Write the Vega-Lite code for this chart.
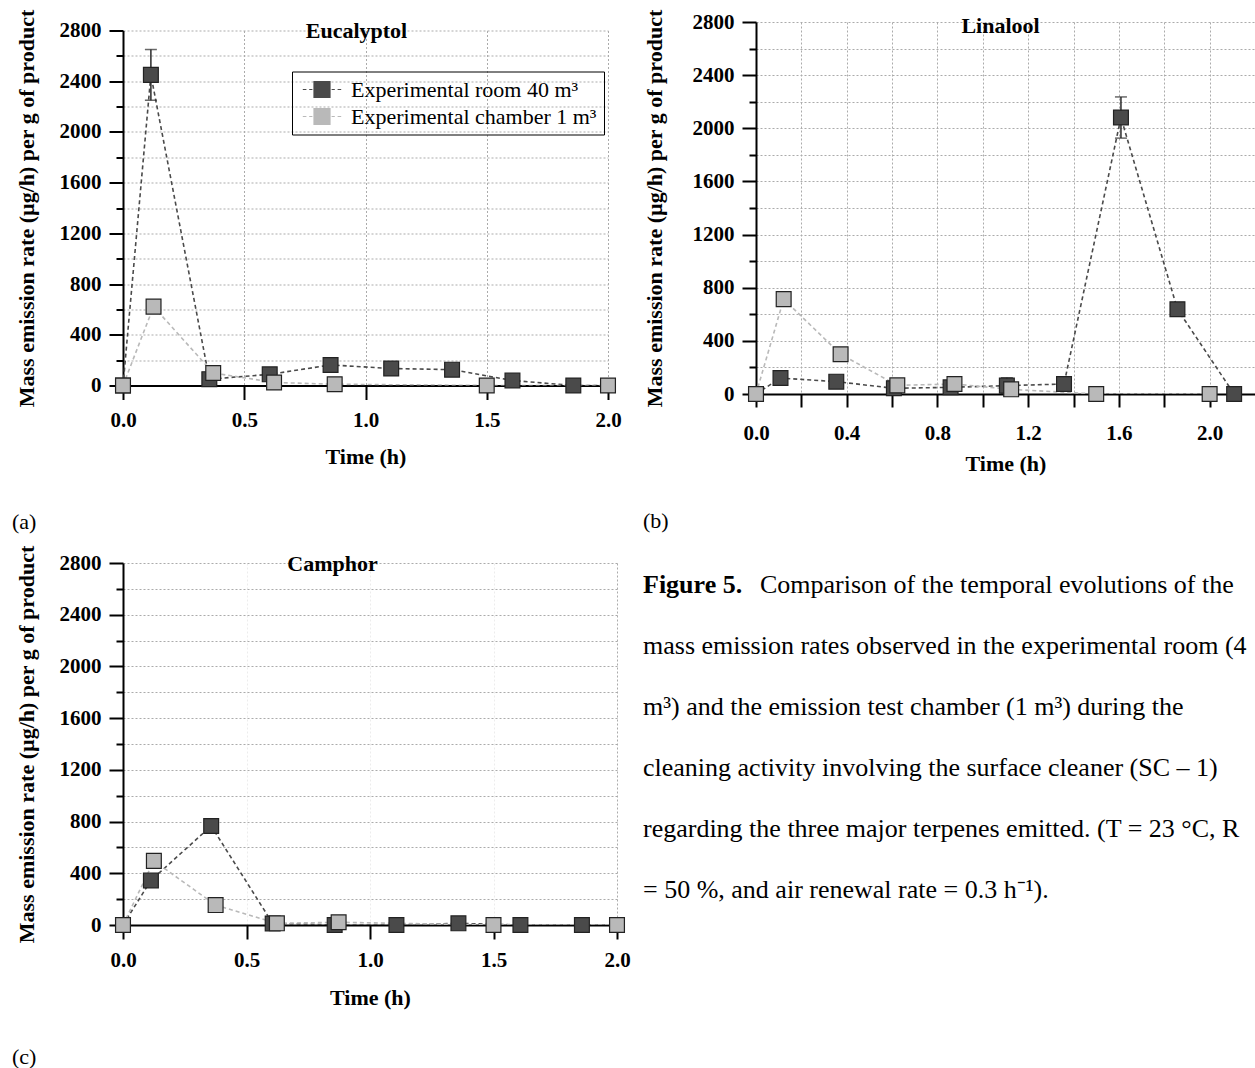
{
  "$schema": "https://vega.github.io/schema/vega-lite/v6.json",
  "padding": {"left": 12, "top": 9, "right": 0, "bottom": 0},
  "background": "white",
  "config": {
    "view": {"stroke": null},
    "font": "Liberation Serif",
    "axis": {
      "labelFont": "Liberation Serif", "labelFontWeight": "bold", "labelFontSize": 21, "labelColor": "black",
      "titleFont": "Liberation Serif", "titleFontWeight": "bold", "titleFontSize": 22, "titleColor": "black",
      "domainColor": "black", "domainWidth": 2, "tickColor": "black", "tickWidth": 2,
      "gridColor": "#ababab", "gridDash": [2, 2], "gridWidth": 1, "labelFlush": false, "labelOverlap": false
    },
    "title": {"font": "Liberation Serif", "fontSize": 22, "fontWeight": "normal", "color": "black"}
  },
  "datasets": {
    "d": [
      {"chem": "Eucalyptol", "series": "Experimental room 40 m³", "t": 0, "v": 0},
      {"chem": "Eucalyptol", "series": "Experimental room 40 m³", "t": 0.115, "v": 2450, "err": 200},
      {"chem": "Eucalyptol", "series": "Experimental room 40 m³", "t": 0.356, "v": 50},
      {"chem": "Eucalyptol", "series": "Experimental room 40 m³", "t": 0.605, "v": 88, "err": 45},
      {"chem": "Eucalyptol", "series": "Experimental room 40 m³", "t": 0.856, "v": 162},
      {"chem": "Eucalyptol", "series": "Experimental room 40 m³", "t": 1.106, "v": 134},
      {"chem": "Eucalyptol", "series": "Experimental room 40 m³", "t": 1.357, "v": 125},
      {"chem": "Eucalyptol", "series": "Experimental room 40 m³", "t": 1.606, "v": 40},
      {"chem": "Eucalyptol", "series": "Experimental room 40 m³", "t": 1.857, "v": 0},
      {"chem": "Eucalyptol", "series": "Experimental room 40 m³", "t": 2.107, "v": 0},
      {"chem": "Eucalyptol", "series": "Experimental chamber 1 m³", "t": 0, "v": 0},
      {"chem": "Eucalyptol", "series": "Experimental chamber 1 m³", "t": 0.126, "v": 622},
      {"chem": "Eucalyptol", "series": "Experimental chamber 1 m³", "t": 0.372, "v": 99},
      {"chem": "Eucalyptol", "series": "Experimental chamber 1 m³", "t": 0.623, "v": 24},
      {"chem": "Eucalyptol", "series": "Experimental chamber 1 m³", "t": 0.873, "v": 10},
      {"chem": "Eucalyptol", "series": "Experimental chamber 1 m³", "t": 1.5, "v": 0},
      {"chem": "Eucalyptol", "series": "Experimental chamber 1 m³", "t": 2.0, "v": 0},
      {"chem": "Linalool", "series": "Experimental room 40 m³", "t": 0, "v": 0},
      {"chem": "Linalool", "series": "Experimental room 40 m³", "t": 0.108, "v": 120},
      {"chem": "Linalool", "series": "Experimental room 40 m³", "t": 0.354, "v": 93, "err": 45},
      {"chem": "Linalool", "series": "Experimental room 40 m³", "t": 0.608, "v": 43},
      {"chem": "Linalool", "series": "Experimental room 40 m³", "t": 0.858, "v": 50},
      {"chem": "Linalool", "series": "Experimental room 40 m³", "t": 1.106, "v": 63, "err": 60},
      {"chem": "Linalool", "series": "Experimental room 40 m³", "t": 1.358, "v": 75},
      {"chem": "Linalool", "series": "Experimental room 40 m³", "t": 1.609, "v": 2081, "err": 155},
      {"chem": "Linalool", "series": "Experimental room 40 m³", "t": 1.858, "v": 638},
      {"chem": "Linalool", "series": "Experimental room 40 m³", "t": 2.108, "v": 0},
      {"chem": "Linalool", "series": "Experimental chamber 1 m³", "t": 0, "v": 0},
      {"chem": "Linalool", "series": "Experimental chamber 1 m³", "t": 0.122, "v": 714},
      {"chem": "Linalool", "series": "Experimental chamber 1 m³", "t": 0.373, "v": 299},
      {"chem": "Linalool", "series": "Experimental chamber 1 m³", "t": 0.623, "v": 65},
      {"chem": "Linalool", "series": "Experimental chamber 1 m³", "t": 0.875, "v": 75},
      {"chem": "Linalool", "series": "Experimental chamber 1 m³", "t": 1.125, "v": 35},
      {"chem": "Linalool", "series": "Experimental chamber 1 m³", "t": 1.5, "v": 0},
      {"chem": "Linalool", "series": "Experimental chamber 1 m³", "t": 2.0, "v": 0},
      {"chem": "Camphor", "series": "Experimental room 40 m³", "t": 0, "v": 0},
      {"chem": "Camphor", "series": "Experimental room 40 m³", "t": 0.113, "v": 345, "err": 45},
      {"chem": "Camphor", "series": "Experimental room 40 m³", "t": 0.357, "v": 766, "err": 40},
      {"chem": "Camphor", "series": "Experimental room 40 m³", "t": 0.606, "v": 12},
      {"chem": "Camphor", "series": "Experimental room 40 m³", "t": 0.857, "v": 0},
      {"chem": "Camphor", "series": "Experimental room 40 m³", "t": 1.107, "v": 0},
      {"chem": "Camphor", "series": "Experimental room 40 m³", "t": 1.358, "v": 13},
      {"chem": "Camphor", "series": "Experimental room 40 m³", "t": 1.609, "v": 0},
      {"chem": "Camphor", "series": "Experimental room 40 m³", "t": 1.858, "v": 0},
      {"chem": "Camphor", "series": "Experimental room 40 m³", "t": 2.108, "v": 0},
      {"chem": "Camphor", "series": "Experimental chamber 1 m³", "t": 0, "v": 0},
      {"chem": "Camphor", "series": "Experimental chamber 1 m³", "t": 0.125, "v": 496},
      {"chem": "Camphor", "series": "Experimental chamber 1 m³", "t": 0.375, "v": 154},
      {"chem": "Camphor", "series": "Experimental chamber 1 m³", "t": 0.623, "v": 13},
      {"chem": "Camphor", "series": "Experimental chamber 1 m³", "t": 0.873, "v": 21},
      {"chem": "Camphor", "series": "Experimental chamber 1 m³", "t": 1.5, "v": 0},
      {"chem": "Camphor", "series": "Experimental chamber 1 m³", "t": 2.0, "v": 0}
    ],
    "cap": [
      {"line": 0, "part": "b", "text": "Figure 5."},
      {"line": 0, "part": "r", "text": "Comparison of the temporal evolutions of the"},
      {"line": 1, "part": "n", "text": "mass emission rates observed in the experimental room (40"},
      {"line": 2, "part": "n", "text": "m³) and the emission test chamber (1 m³) during the"},
      {"line": 3, "part": "n", "text": "cleaning activity involving the surface cleaner (SC – 1)"},
      {"line": 4, "part": "n", "text": "regarding the three major terpenes emitted. (T = 23 °C, RH"},
      {"line": 5, "part": "n", "text": "= 50 %, and air renewal rate = 0.3 h⁻¹)."}
    ]
  },
  "resolve": {"scale": {"color": "independent"}, "legend": {"color": "independent"}},
  "spacing": 12,
  "vconcat": [
    {
      "hconcat": [
        {
          "width": 485, "height": 355,
          "data": {"name": "d"},
          "transform": [{"filter": "datum.chem === 'Eucalyptol'"}],
          "title": {"text": "(a)", "orient": "bottom", "anchor": "start", "frame": "bounds", "offset": 44, "dx": -3},
          "resolve": {"axis": {"x": "independent"}},
          "encoding": {
            "y": {"field": "v", "type": "quantitative", "scale": {"domain": [0, 2800]},
              "axis": {"title": "Mass emission rate (µg/h) per g of product", "values": [0,200,400,600,800,1000,1200,1400,1600,1800,2000,2200,2400,2600,2800],
                "format": "d", "labelExpr": "datum.value % 400 === 0 ? datum.label : ''",
                "tickSize": {"condition": {"test": "datum.value % 400 === 0", "value": 14}, "value": 7},
                "labelPadding": 8, "titlePadding": 21, "grid": true}}
          },
          "layer": [
            {
              "mark": {"type": "line", "strokeDash": [4, 3], "strokeWidth": 1.6, "clip": true},
              "encoding": {
                "x": {"field": "t", "type": "quantitative", "scale": {"domain": [0, 2]},
                  "axis": {"title": "Time (h)", "values": [0, 0.5, 1, 1.5, 2], "format": ".1f", "tickSize": 14, "labelPadding": 10, "titlePadding": 16, "grid": true}},
                "color": {"field": "series", "type": "nominal", "scale": {"domain": ["Experimental room 40 m³", "Experimental chamber 1 m³"], "range": ["#4a4a4a", "#b9b9b9"]},
                  "legend": {"orient": "none", "legendX": 169, "legendY": 41, "title": null, "strokeColor": "black", "padding": 7,
                    "labelFont": "Liberation Serif", "labelFontSize": 22, "labelFontWeight": "normal", "labelColor": "black", "labelLimit": 400,
                    "symbolType": "M-1,-1H1V1H-1Z M-2.4,0H-1.95 M-1.6,0H-1.2 M1.2,0H1.6 M1.95,0H2.4",
                    "symbolSize": 256, "symbolStrokeColor": "#333", "symbolStrokeWidth": 1.2, "symbolOffset": 12, "labelOffset": 18, "rowPadding": 5}}
              }
            },
            {
              "transform": [{"filter": "isValid(datum.err)"}],
              "mark": {"type": "errorbar", "ticks": {"size": 12}, "color": "#2a2a2a", "thickness": 1.5},
              "encoding": {
                "x": {"field": "t", "type": "quantitative", "axis": null},
                "yError": {"field": "err"}
              }
            },
            {
              "transform": [{"filter": "datum.t <= 2.05"}],
              "mark": {"type": "point", "shape": "square", "filled": true, "size": 220, "stroke": "#222", "strokeWidth": 1.2, "opacity": 1},
              "encoding": {
                "x": {"field": "t", "type": "quantitative",
                  "axis": {"orient": "top", "title": "Eucalyptol", "labels": false, "ticks": false, "domain": false, "grid": false, "titleFontSize": 22, "titleX": 233, "titleY": 0, "titleBaseline": "middle", "titleAlign": "center", "titleAngle": 0}},
                "color": {"field": "series", "type": "nominal", "scale": {"domain": ["Experimental room 40 m³", "Experimental chamber 1 m³"], "range": ["#4a4a4a", "#b9b9b9"]},
                  "legend": {"orient": "none", "legendX": 169, "legendY": 41, "title": null, "strokeColor": "black", "padding": 7,
                    "labelFont": "Liberation Serif", "labelFontSize": 22, "labelFontWeight": "normal", "labelColor": "black", "labelLimit": 400,
                    "symbolType": "M-1,-1H1V1H-1Z M-2.4,0H-1.95 M-1.6,0H-1.2 M1.2,0H1.6 M1.95,0H2.4",
                    "symbolSize": 256, "symbolStrokeColor": "#333", "symbolStrokeWidth": 1.2, "symbolOffset": 12, "labelOffset": 18, "rowPadding": 5}}
              }
            }
          ]
        },
        {
          "width": 499, "height": 372,
          "data": {"name": "d"},
          "transform": [{"filter": "datum.chem === 'Linalool'"}],
          "title": {"text": "(b)", "orient": "bottom", "anchor": "start", "frame": "bounds", "offset": 37, "dx": 0},
          "resolve": {"axis": {"x": "independent"}},
          "encoding": {
            "y": {"field": "v", "type": "quantitative", "scale": {"domain": [0, 2800]},
              "axis": {"title": "Mass emission rate (µg/h) per g of product", "values": [0,200,400,600,800,1000,1200,1400,1600,1800,2000,2200,2400,2600,2800],
                "format": "d", "labelExpr": "datum.value % 400 === 0 ? datum.label : ''",
                "tickSize": {"condition": {"test": "datum.value % 400 === 0", "value": 14}, "value": 7},
                "labelPadding": 8, "titlePadding": 26, "grid": true}}
          },
          "layer": [
            {
              "mark": {"type": "line", "strokeDash": [4, 3], "strokeWidth": 1.6, "clip": true},
              "encoding": {
                "x": {"field": "t", "type": "quantitative", "scale": {"domain": [0, 2.17]},
                  "axis": {"title": "Time (h)", "values": [0, 0.2, 0.4, 0.6, 0.8, 1, 1.2, 1.4, 1.6, 1.8, 2], "labelExpr": "round(datum.value * 10) % 4 === 0 ? format(datum.value, '.1f') : ''", "tickSize": 13, "labelPadding": 15, "titlePadding": 10, "grid": true}},
                "color": {"field": "series", "type": "nominal", "scale": {"domain": ["Experimental room 40 m³", "Experimental chamber 1 m³"], "range": ["#4a4a4a", "#b9b9b9"]}, "legend": null}
              }
            },
            {
              "transform": [{"filter": "isValid(datum.err)"}],
              "mark": {"type": "errorbar", "ticks": {"size": 12}, "color": "#2a2a2a", "thickness": 1.5},
              "encoding": {
                "x": {"field": "t", "type": "quantitative", "axis": null},
                "yError": {"field": "err"}
              }
            },
            {
              "mark": {"type": "point", "shape": "square", "filled": true, "size": 220, "stroke": "#222", "strokeWidth": 1.2, "opacity": 1},
              "encoding": {
                "x": {"field": "t", "type": "quantitative",
                  "axis": {"orient": "top", "title": "Linalool", "labels": false, "ticks": false, "domain": false, "grid": false, "titleFontSize": 22, "titleX": 244, "titleY": 3, "titleBaseline": "middle", "titleAlign": "center", "titleAngle": 0}},
                "color": {"field": "series", "type": "nominal", "scale": {"domain": ["Experimental room 40 m³", "Experimental chamber 1 m³"], "range": ["#4a4a4a", "#b9b9b9"]}, "legend": null}
              }
            }
          ]
        }
      ],
      "bounds": "flush",
      "center": true,
      "spacing": 148,
      "resolve": {"scale": {"color": "independent"}, "legend": {"color": "independent"}}
    },
    {
      "hconcat": [
        {
          "width": 494, "height": 362,
          "data": {"name": "d"},
          "transform": [{"filter": "datum.chem === 'Camphor'"}],
          "title": {"text": "(c)", "orient": "bottom", "anchor": "start", "frame": "bounds", "offset": 39, "dx": -3},
          "resolve": {"axis": {"x": "independent"}},
          "encoding": {
            "y": {"field": "v", "type": "quantitative", "scale": {"domain": [0, 2800]},
              "axis": {"title": "Mass emission rate (µg/h) per g of product", "values": [0,200,400,600,800,1000,1200,1400,1600,1800,2000,2200,2400,2600,2800],
                "format": "d", "labelExpr": "datum.value % 400 === 0 ? datum.label : ''",
                "tickSize": {"condition": {"test": "datum.value % 400 === 0", "value": 14}, "value": 7},
                "labelPadding": 8, "titlePadding": 21, "grid": true}}
          },
          "layer": [
            {
              "mark": {"type": "line", "strokeDash": [4, 3], "strokeWidth": 1.6, "clip": true},
              "encoding": {
                "x": {"field": "t", "type": "quantitative", "scale": {"domain": [0, 2]},
                  "axis": {"title": "Time (h)", "values": [0, 0.5, 1, 1.5, 2], "format": ".1f", "tickSize": 14, "labelPadding": 10, "titlePadding": 17, "grid": true,
                    "gridColor": {"condition": {"test": "datum.value === 2", "value": "#ababab"}, "value": "#ececec"}}},
                "color": {"field": "series", "type": "nominal", "scale": {"domain": ["Experimental room 40 m³", "Experimental chamber 1 m³"], "range": ["#4a4a4a", "#b9b9b9"]}, "legend": null}
              }
            },
            {
              "transform": [{"filter": "isValid(datum.err)"}],
              "mark": {"type": "errorbar", "ticks": {"size": 12}, "color": "#2a2a2a", "thickness": 1.5},
              "encoding": {
                "x": {"field": "t", "type": "quantitative", "axis": null},
                "yError": {"field": "err"}
              }
            },
            {
              "transform": [{"filter": "datum.t <= 2.05"}],
              "mark": {"type": "point", "shape": "square", "filled": true, "size": 220, "stroke": "#222", "strokeWidth": 1.2, "opacity": 1},
              "encoding": {
                "x": {"field": "t", "type": "quantitative",
                  "axis": {"orient": "top", "title": "Camphor", "labels": false, "ticks": false, "domain": false, "grid": false, "titleFontSize": 22, "titleX": 209, "titleY": 0, "titleBaseline": "middle", "titleAlign": "center", "titleAngle": 0}},
                "color": {"field": "series", "type": "nominal", "scale": {"domain": ["Experimental room 40 m³", "Experimental chamber 1 m³"], "range": ["#4a4a4a", "#b9b9b9"]}, "legend": null}
              }
            }
          ]
        },
        {
          "width": 612, "height": 340,
          "data": {"name": "cap"},
          "encoding": {
            "y": {"field": "line", "type": "quantitative", "scale": {"domain": [0, 5], "range": [22, 327]}, "axis": null},
            "text": {"field": "text"}
          },
          "layer": [
            {"transform": [{"filter": "datum.part === 'b'"}],
             "mark": {"type": "text", "align": "left", "baseline": "middle", "font": "Liberation Serif", "fontSize": 26, "fontWeight": "bold", "color": "black", "x": 0}},
            {"transform": [{"filter": "datum.part === 'r'"}],
             "mark": {"type": "text", "align": "left", "baseline": "middle", "font": "Liberation Serif", "fontSize": 26, "color": "black", "x": 0, "dx": 117, "limit": 495, "ellipsis": "\u200b"}},
            {"transform": [{"filter": "datum.part === 'n'"}],
             "mark": {"type": "text", "align": "left", "baseline": "middle", "font": "Liberation Serif", "fontSize": 26, "color": "black", "x": 0, "limit": 612, "ellipsis": "\u200b"}}
          ]
        }
      ],
      "bounds": "flush",
      "spacing": 26,
      "resolve": {"scale": {"color": "independent"}, "legend": {"color": "independent"}}
    }
  ]
}
